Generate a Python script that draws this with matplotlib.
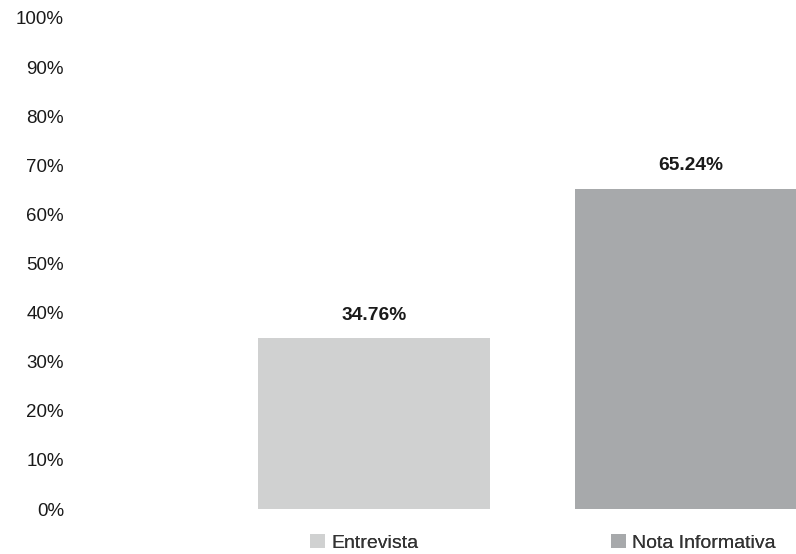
import matplotlib.pyplot as plt
from matplotlib.patches import Patch
from matplotlib.ticker import FuncFormatter

plt.rcParams['font.family'] = ['Liberation Sans', 'DejaVu Sans']

# Data
categories = ['Entrevista', 'Nota Informativa']
values = [34.76, 65.24]
colors = ['#d0d1d1', '#a7a9ab']
y_ticks = [0, 10, 20, 30, 40, 50, 60, 70, 80, 90, 100]

fig = plt.figure(figsize=(7.96, 5.54), dpi=100)
ax = fig.add_axes([75 / 796, 45 / 554, 721 / 796, 491 / 554])

x = list(range(len(categories)))
bars = ax.bar(x, values, width=0.73, color=colors)

# value labels above bars
for xi, v in zip(x, values):
    ax.text(xi, v + 3.0, f'{v:.2f}%', ha='center', va='bottom',
            fontsize=13.8, fontweight='bold', color='#1a1a1a')

ax.set_ylim(0, 100)
ax.set_xlim(-0.943, 1.331)
ax.set_yticks(y_ticks)
ax.yaxis.set_major_formatter(FuncFormatter(lambda v, p: f'{v:.0f}%'))
ax.tick_params(axis='y', length=0, pad=8, labelsize=13.5, labelcolor='#1a1a1a')
ax.set_xticks([])
for s in ax.spines.values():
    s.set_visible(False)

# legend below, one entry under each bar
legend_x = [310, 611]
for c, l, lx in zip(colors, categories, legend_x):
    leg = fig.legend(handles=[Patch(facecolor=c, label=l)], loc='center left',
                     bbox_to_anchor=(lx / 796, 1 - 543 / 554), frameon=False,
                     fontsize=14, handlelength=0.75, handleheight=0.75,
                     handletextpad=0.35, borderpad=0, borderaxespad=0,
                     labelcolor='#333333')
    fig.add_artist(leg)

plt.savefig('out.png', dpi=100)
